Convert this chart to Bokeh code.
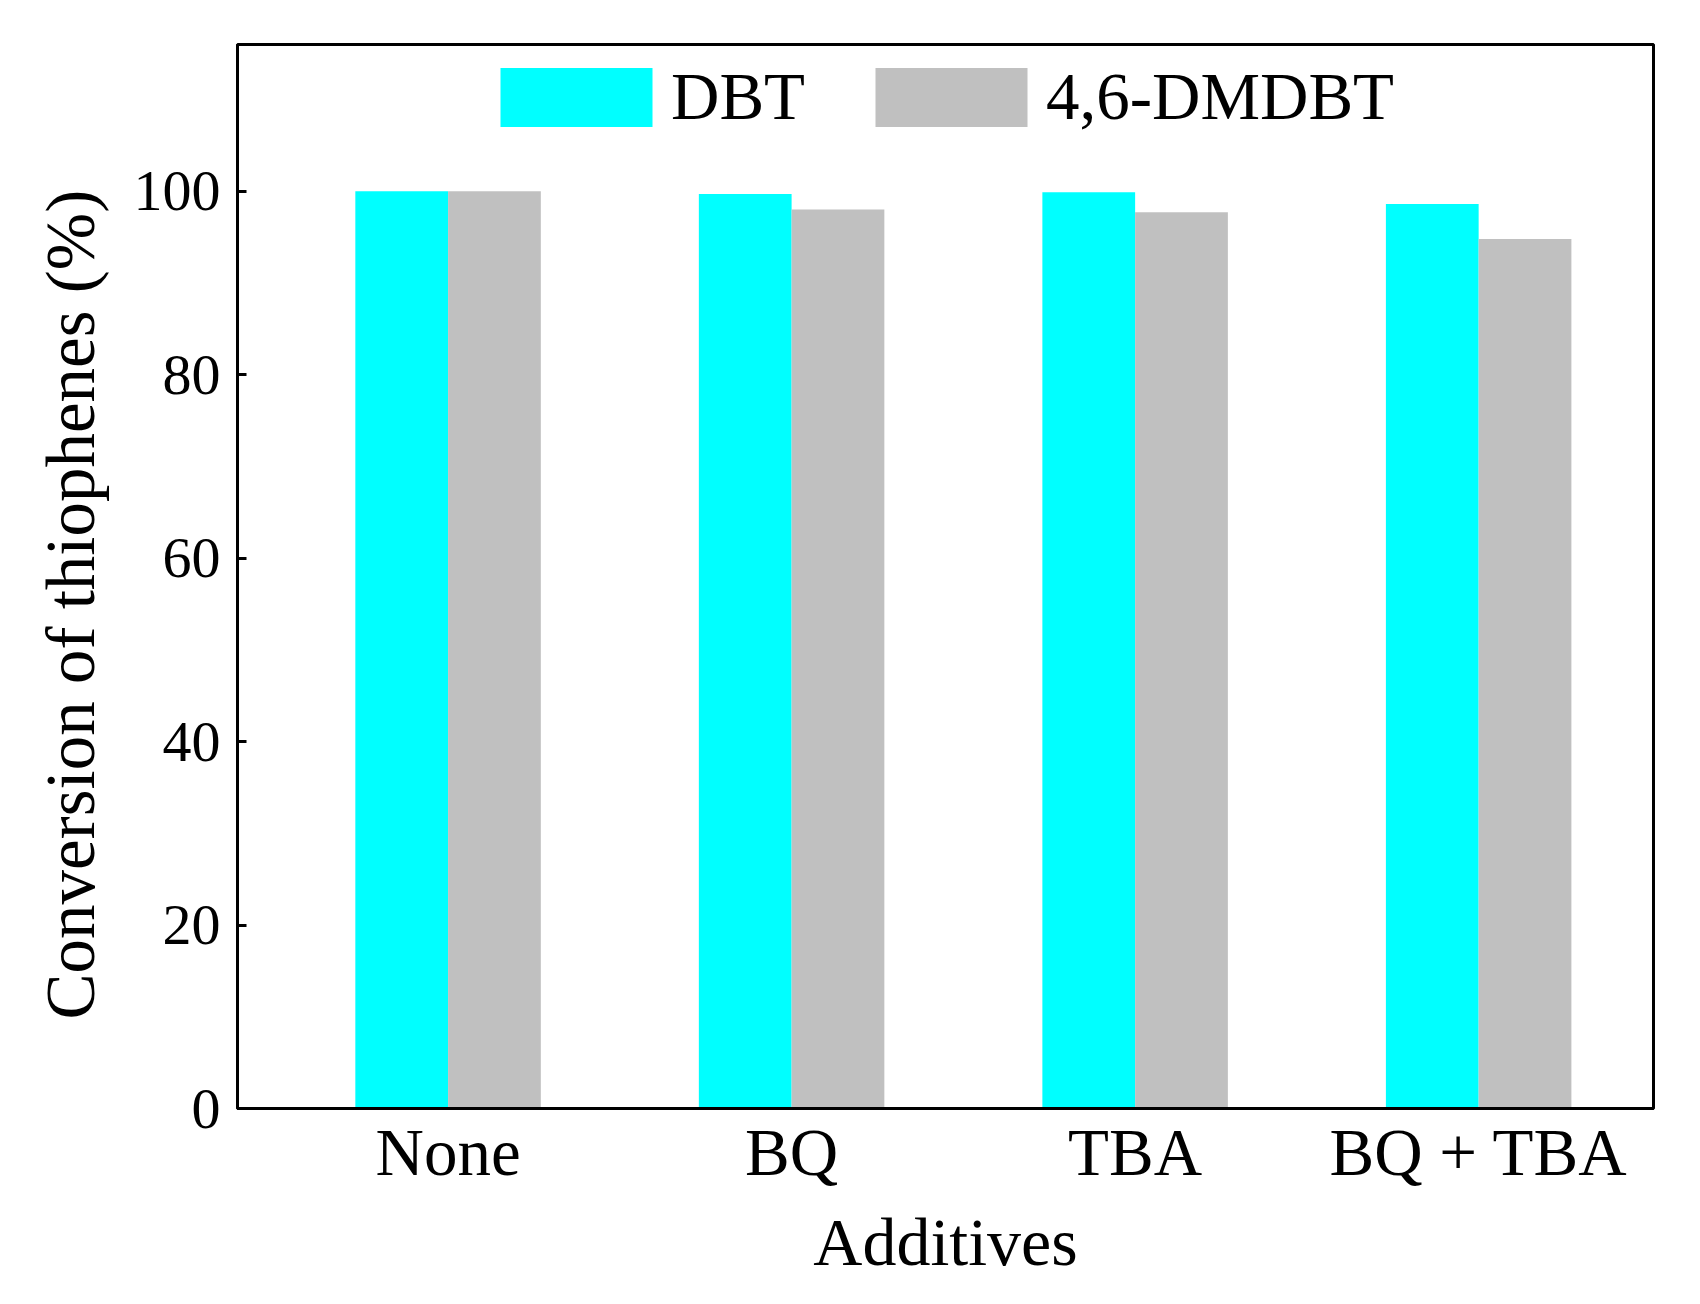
"""
Conversion of thiophenes (DBT and 4,6-DMDBT) with different scavenger
additives, drawn as a grouped bar chart.
"""

from bokeh.plotting import figure
from bokeh.models import Range1d, FixedTicker, Title
from bokeh.embed import file_html
from bokeh.resources import INLINE

# categories on the x axis
additives = ["None", "BQ", "TBA", "BQ + TBA"]

# conversion (%) for each thiophene
dbt = [100.0, 99.7, 99.9, 98.6]
dmdbt = [100.0, 98.0, 97.7, 94.8]

y_ticks = [0, 20, 40, 60, 80, 100]

FONT = "Liberation Serif"


def make_figure() -> figure:
    """
    Build the empty figure with the frame, axes and fonts of the reference.
    """
    p = figure(width=1680, height=1284, output_backend="svg", toolbar_location=None,
               x_range=Range1d(-0.613, 3.509), y_range=Range1d(0, 116),
               min_border_left=237, min_border_right=27,
               min_border_top=44, min_border_bottom=176)

    # black box round the plot area, no grid
    p.outline_line_color = "black"
    p.outline_line_width = 3
    p.outline_line_alpha = 1
    p.xgrid.visible = False
    p.ygrid.visible = False

    # x axis: category names, no ticks
    p.xaxis.ticker = FixedTicker(ticks=list(range(len(additives))))
    p.xaxis.major_label_overrides = {i: name for i, name in enumerate(additives)}
    p.xaxis.major_tick_in = 0
    p.xaxis.major_tick_out = 0
    p.xaxis.minor_tick_line_color = None
    p.xaxis.major_label_standoff = 6
    p.xaxis.axis_label = "Additives"
    p.xaxis.axis_label_standoff = 12
    p.xaxis.major_label_text_font_size = "67px"
    p.xaxis.axis_label_text_font_size = "68px"

    # y axis: ticks pointing inward
    p.yaxis.ticker = FixedTicker(ticks=y_ticks)
    p.yaxis.major_tick_in = 9
    p.yaxis.major_tick_out = 0
    p.yaxis.minor_tick_line_color = None
    p.yaxis.major_label_standoff = 17
    p.yaxis.major_label_text_font_size = "58px"

    for ax in [p.xaxis, p.yaxis]:
        ax.axis_line_width = 3
        ax.major_tick_line_width = 3
        ax.major_label_text_font = FONT
        ax.major_label_text_color = "black"
        ax.axis_label_text_font = FONT
        ax.axis_label_text_font_style = "normal"
        ax.axis_label_text_color = "black"

    # y label as a side title, so it can sit a little below the middle
    # (offset counts up from the bottom of the frame)
    ylabel = Title(text="Conversion of thiophenes (%)", align="left", offset=89,
                   standoff=44, text_font=FONT, text_font_size="69px",
                   text_font_style="normal", text_color="black")
    p.add_layout(ylabel, "left")
    return p


def draw_bars(p: figure) -> None:
    """
    Draw the two series side by side around each category position.
    """
    x = list(range(len(additives)))
    x_dbt = [i - 0.135 for i in x]
    x_dmdbt = [i + 0.135 for i in x]

    p.vbar(x=x_dbt, top=dbt, bottom=0, width=0.27, color="#00FFFF",
           line_color=None, legend_label="DBT")
    p.vbar(x=x_dmdbt, top=dmdbt, bottom=0, width=0.27, color="#C0C0C0",
           line_color=None, legend_label="4,6-DMDBT")

    # legend in one row at the top of the frame
    # (bokeh draws the patch at 80% of the glyph box)
    leg = p.legend[0]
    leg.location = (244, 973)
    leg.orientation = "horizontal"
    leg.border_line_color = None
    leg.background_fill_alpha = 0
    leg.padding = 0
    leg.margin = 0
    leg.spacing = 51
    leg.glyph_width = 190
    leg.glyph_height = 74
    leg.label_height = 74
    leg.label_standoff = 0
    leg.label_text_font = FONT
    leg.label_text_font_size = "67px"
    leg.label_text_color = "black"


p = make_figure()
draw_bars(p)

open("out.html", "w").write(file_html(p, INLINE))
